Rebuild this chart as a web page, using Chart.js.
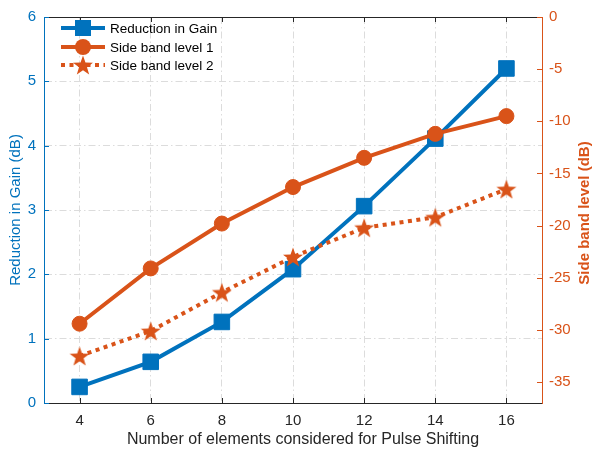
<!DOCTYPE html>
<html>
<head>
<meta charset="utf-8">
<script src="https://cdn.jsdelivr.net/npm/chart.js@4.4.0/dist/chart.umd.min.js"></script>
<style>
html,body{margin:0;padding:0;background:#fff;}
</style>
</head>
<body>
<canvas id="myChart" width="592" height="453"></canvas>
<script>
// values
const elements = [4, 6, 8, 10, 12, 14, 16];
const gainReduction = [0.25, 0.64, 1.26, 2.08, 3.06, 4.11, 5.2];
const sideBand1 = [-29.4, -24.1, -19.8, -16.3, -13.5, -11.2, -9.5];
const sideBand2 = [-32.5, -30.1, -26.4, -23.0, -20.2, -19.2, -16.5];
const xTicks = [4, 6, 8, 10, 12, 14, 16];
const leftTicks = [0, 1, 2, 3, 4, 5, 6];
const rightTicks = [-35, -30, -25, -20, -15, -10, -5, 0];
const labels = ['Reduction in Gain', 'Side band level 1', 'Side band level 2'];

const BLUE = '#0072BD';
const ORANGE = '#D95319';
const DARK = '#262626';
const FONT = '"Liberation Sans", Arial, Helvetica, sans-serif';

function starImg(size, color){
    let c = document.createElement('canvas');
    c.width = size; c.height = size;
    let g = c.getContext('2d');
    let cx = size/2, cy = size/2 + 1, R = size/2 - 0.5, r = R*0.4;
    g.beginPath();
    for(let i=0;i<10;i++){
        let a = -Math.PI/2 + i*Math.PI/5;
        let rr = i%2 ? r : R;
        g.lineTo(cx + rr*Math.cos(a), cy + rr*Math.sin(a));
    }
    g.closePath();
    g.fillStyle = color;
    g.fill();
    return c;
}
const star = starImg(22, ORANGE);

function pts(ys){
    return elements.map((x,i)=>({x:x, y:ys[i]}));
}

// tick marks inside the box, top border, axis titles and legend
const matlabBits = {
    id: 'matlabBits',
    afterDraw(chart){
        let ctx = chart.ctx;
        let a = chart.chartArea;
        let sx = chart.scales.x, yl = chart.scales.y, yr = chart.scales.y2;
        ctx.save();
        ctx.lineWidth = 1;
        // top border
        ctx.strokeStyle = DARK;
        ctx.beginPath();
        ctx.moveTo(a.left, a.top + 0.5);
        ctx.lineTo(a.right, a.top + 0.5);
        ctx.stroke();
        // x ticks (bottom and top)
        ctx.beginPath();
        xTicks.forEach(v=>{
            let px = Math.round(sx.getPixelForValue(v)) + 0.5;
            ctx.moveTo(px, a.bottom); ctx.lineTo(px, a.bottom - 5);
            ctx.moveTo(px, a.top); ctx.lineTo(px, a.top + 5);
        });
        ctx.stroke();
        // left ticks
        ctx.strokeStyle = BLUE;
        ctx.beginPath();
        leftTicks.forEach(v=>{
            let py = Math.round(yl.getPixelForValue(v)) + 0.5;
            ctx.moveTo(a.left, py); ctx.lineTo(a.left + 5, py);
        });
        ctx.stroke();
        // right ticks
        ctx.strokeStyle = ORANGE;
        ctx.beginPath();
        rightTicks.forEach(v=>{
            let py = Math.round(yr.getPixelForValue(v)) + 0.5;
            ctx.moveTo(a.right, py); ctx.lineTo(a.right - 5, py);
        });
        ctx.stroke();

        // x axis title
        ctx.fillStyle = DARK;
        ctx.font = '16px ' + FONT;
        ctx.textAlign = 'center';
        ctx.textBaseline = 'middle';
        ctx.fillText('Number of elements considered for Pulse Shifting', 303, 440);

        // right axis title, reading bottom to top
        ctx.save();
        ctx.translate(585, (a.top + a.bottom)/2 + 3);
        ctx.rotate(-Math.PI/2);
        ctx.fillStyle = ORANGE;
        ctx.font = 'bold 15px ' + FONT;
        ctx.textAlign = 'center';
        ctx.textBaseline = 'middle';
        ctx.fillText('Side band level (dB)', 0, 0);
        ctx.restore();

        // legend
        let rows = [28, 47, 65];
        ctx.font = '13.5px ' + FONT;
        ctx.textBaseline = 'middle';
        ctx.textAlign = 'left';
        rows.forEach((y,i)=>{
            ctx.lineWidth = 4;
            ctx.strokeStyle = i==0 ? BLUE : ORANGE;
            ctx.setLineDash(i==2 ? [4,4.5] : []);
            ctx.beginPath();
            ctx.moveTo(61, y); ctx.lineTo(105, y);
            ctx.stroke();
            ctx.setLineDash([]);
            if(i==0){
                ctx.fillStyle = BLUE;
                ctx.fillRect(83-8, y-8, 16, 16);
            } else if(i==1){
                ctx.fillStyle = ORANGE;
                ctx.beginPath();
                ctx.arc(83, y, 8, 0, Math.PI*2);
                ctx.fill();
            } else {
                ctx.drawImage(star, 83-11, y-11);
            }
            ctx.fillStyle = '#000';
            ctx.fillText(labels[i], 110, y + 1);
        });
        ctx.restore();
    }
};

const ctx = document.getElementById('myChart').getContext('2d');
const myChart = new Chart(ctx, {
    type: 'line',
    data: {
        datasets: [{
            label: labels[0],
            data: pts(gainReduction),
            yAxisID: 'y',
            borderColor: BLUE,
            backgroundColor: BLUE,
            borderWidth: 4,
            pointStyle: 'rect',
            pointRadius: 11,
            pointBorderWidth: 1,
            order: 3
        }, {
            label: labels[1],
            data: pts(sideBand1),
            yAxisID: 'y2',
            borderColor: ORANGE,
            backgroundColor: ORANGE,
            borderWidth: 4,
            pointStyle: 'circle',
            pointRadius: 7.5,
            pointBorderWidth: 1,
            order: 2
        }, {
            label: labels[2],
            data: pts(sideBand2),
            yAxisID: 'y2',
            borderColor: ORANGE,
            backgroundColor: ORANGE,
            borderWidth: 4,
            borderDash: [4, 4.5],
            borderCapStyle: 'butt',
            pointStyle: star,
            order: 1
        }]
    },
    options: {
        responsive: false,
        animation: false,
        devicePixelRatio: 1,
        layout: { padding: { top: 10, left: 0, right: 0, bottom: 0 } },
        plugins: { legend: { display: false }, tooltip: { enabled: false } },
        scales: {
            x: {
                type: 'linear',
                min: 3, max: 17,
                afterBuildTicks: s => { s.ticks = xTicks.map(v => ({value: v})); },
                afterFit: s => { s.height = 50; },
                grid: { color: '#dcdcdc', drawTicks: false },
                border: { color: DARK, width: 1, dash: [7, 3, 1.5, 3] },
                ticks: { color: DARK, font: { family: FONT, size: 15 }, padding: 9, maxRotation: 0 }
            },
            y: {
                position: 'left',
                min: 0, max: 6,
                afterBuildTicks: s => { s.ticks = leftTicks.map(v => ({value: v})); },
                afterFit: s => { s.width = 44; },
                grid: { color: '#dcdcdc', drawTicks: false },
                border: { color: BLUE, width: 1, dash: [7, 3, 1.5, 3] },
                ticks: { color: BLUE, font: { family: FONT, size: 15 }, padding: 8 },
                title: { display: true, text: 'Reduction in Gain (dB)', color: BLUE,
                         font: { family: FONT, size: 15 }, padding: { top: 7, bottom: 0 } }
            },
            y2: {
                position: 'right',
                min: -37, max: 0,
                afterBuildTicks: s => { s.ticks = rightTicks.map(v => ({value: v})); },
                afterFit: s => { s.width = 50; },
                grid: { display: false, drawTicks: false },
                border: { color: ORANGE, width: 1 },
                ticks: { color: ORANGE, font: { family: FONT, size: 15 }, padding: 7 }
            }
        }
    },
    plugins: [matlabBits]
});
</script>
</body>
</html>
